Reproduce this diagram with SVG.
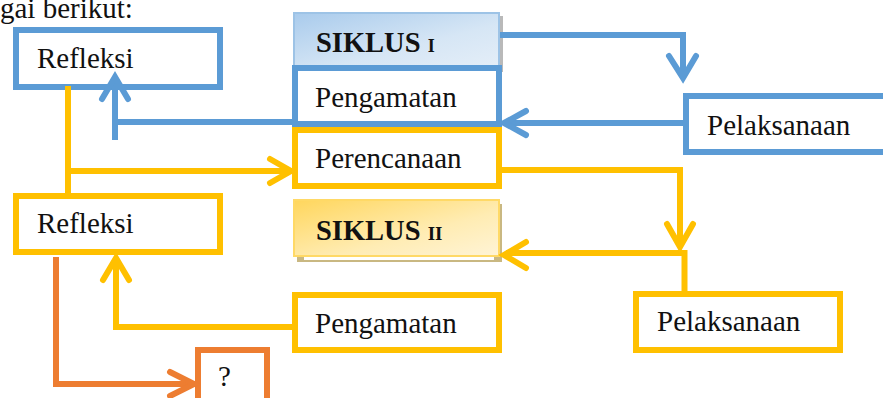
<svg xmlns="http://www.w3.org/2000/svg" width="883" height="398" viewBox="0 0 883 398">
<style>
text{font-family:"Liberation Serif","Times New Roman",serif;font-size:29px;fill:#111}
.b{font-weight:bold;font-size:28.5px}
.sm{font-weight:bold;font-size:18px}
.box{fill:#fff;stroke-width:6}
.blue{stroke:#5b9bd5}
.yel{stroke:#ffc000}
.org{stroke:#ed7d31}
.ln{fill:none;stroke-width:6}
.hd{fill:none;stroke-width:6;stroke-linecap:round;stroke-linejoin:miter}
</style>
<defs>
<linearGradient id="gb" x1="0" y1="0" x2="1" y2="1">
<stop offset="0" stop-color="#a9cbec"/><stop offset="0.6" stop-color="#d6e6f5"/><stop offset="1" stop-color="#e4eef8"/>
</linearGradient>
<linearGradient id="gy" x1="0" y1="0" x2="1" y2="1">
<stop offset="0" stop-color="#ffd65c"/><stop offset="0.6" stop-color="#ffecb3"/><stop offset="1" stop-color="#fff4d6"/>
</linearGradient>
</defs>
<text x="0" y="18">gai berikut:</text>

<g id="siklus1">
<rect x="297" y="16" width="206" height="56" fill="#b9b9b9"/>
<rect x="294" y="13" width="205" height="54" fill="url(#gb)" stroke="#9dc3e6" stroke-width="2"/>
<text class="b" x="316" y="52">SIKLUS <tspan class="sm">I</tspan></text>
</g>
<g id="siklus2">
<rect x="297" y="204" width="205" height="58" fill="#c9b882"/>
<rect x="304" y="257" width="190" height="3" fill="#fff"/>
<rect x="294" y="200" width="205" height="56" fill="url(#gy)" stroke="#ffd966" stroke-width="2"/>
<text class="b" x="316" y="240">SIKLUS <tspan class="sm" style="font-size:19px">II</tspan></text>
</g>

<g id="refleksi1"><rect class="box blue" x="16" y="30" width="204" height="57"/><text x="37" y="68">Refleksi</text></g>
<g id="pengamatan1"><rect class="box blue" x="295" y="68" width="204" height="56"/><text x="315" y="107">Pengamatan</text></g>
<g id="perencanaan"><rect class="box yel" x="295" y="130" width="204" height="56"/><text x="315" y="168">Perencanaan</text></g>
<g id="pelaksanaan1"><rect class="box blue" x="686" y="96" width="205" height="56"/><text x="707" y="135">Pelaksanaan</text></g>
<g id="refleksi2"><rect class="box yel" x="16" y="196" width="204" height="56"/><text x="37" y="233">Refleksi</text></g>
<g id="pelaksanaan2"><rect class="box yel" x="636" y="294" width="204" height="56"/><text x="657" y="331">Pelaksanaan</text></g>
<g id="pengamatan2"><rect class="box yel" x="295" y="295" width="204" height="55"/><text x="315" y="333">Pengamatan</text></g>
<g id="tanya"><rect class="box org" x="198" y="350" width="69" height="60"/><text x="218" y="386">?</text></g>

<g id="connectors">
<path class="ln blue" d="M500 35 H683 V76"/>
<polyline class="hd blue" points="669,56 683,78 696,56"/>
<path class="ln blue" d="M686 123 H506"/>
<polyline class="hd blue" points="526,111 504,123 526,135"/>
<path class="ln blue" d="M292 122 H115 M115 140 V78"/>
<polyline class="hd blue" points="102,99 115,77 128,99"/>

<path class="ln yel" d="M68 86 V193 M68 171 H290"/>
<polyline class="hd yel" points="270,159 291,171 270,183"/>
<path class="ln yel" d="M502 170 H680 V245"/>
<polyline class="hd yel" points="667,224 680,247 693,224"/>
<path class="ln yel" d="M684.5 291 V253 H506"/>
<polyline class="hd yel" points="526,242 504,255 526,268"/>
<path class="ln yel" d="M292 327 H116 V260"/>
<polyline class="hd yel" points="103,280 116,258 129,280"/>

<path class="ln org" d="M56 257 V384 H193"/>
<polyline class="hd org" points="170,372 194,384 170,396"/>
</g>
</svg>
